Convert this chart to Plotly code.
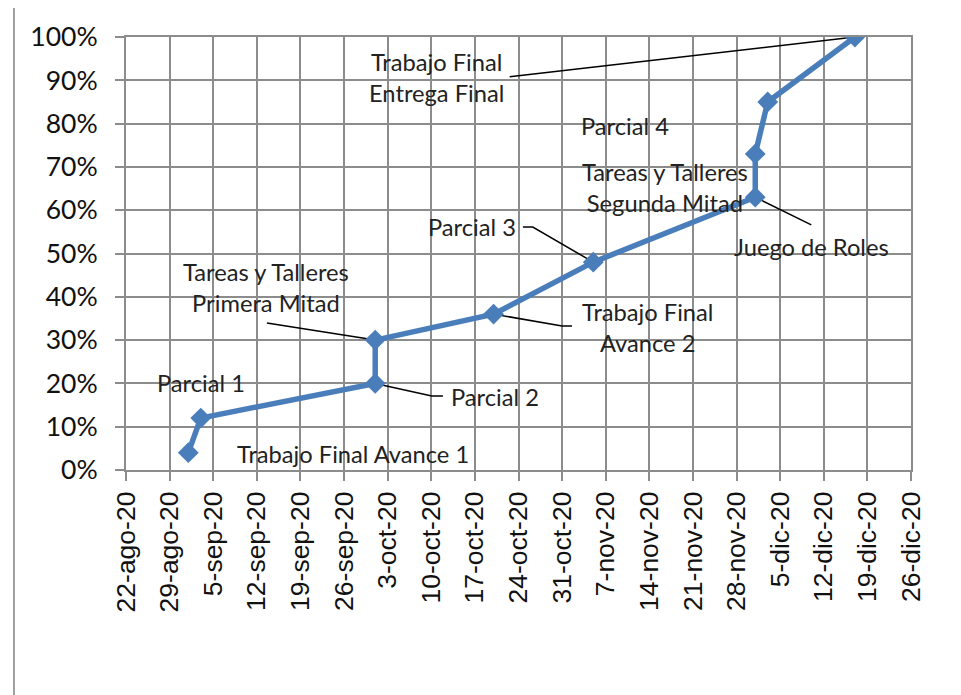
import plotly.graph_objects as go

# ---- data ----
dates = ["2020-09-01", "2020-09-03", "2020-10-01", "2020-10-01", "2020-10-20",
         "2020-11-05", "2020-12-01", "2020-12-01", "2020-12-03", "2020-12-17"]
progress = [0.04, 0.12, 0.20, 0.30, 0.36, 0.48, 0.63, 0.73, 0.85, 1.00]

tick_dates = ["2020-08-22", "2020-08-29", "2020-09-05", "2020-09-12", "2020-09-19",
              "2020-09-26", "2020-10-03", "2020-10-10", "2020-10-17", "2020-10-24",
              "2020-10-31", "2020-11-07", "2020-11-14", "2020-11-21", "2020-11-28",
              "2020-12-05", "2020-12-12", "2020-12-19", "2020-12-26"]
tick_labels = ["22-ago-20", "29-ago-20", "5-sep-20", "12-sep-20", "19-sep-20",
               "26-sep-20", "3-oct-20", "10-oct-20", "17-oct-20", "24-oct-20",
               "31-oct-20", "7-nov-20", "14-nov-20", "21-nov-20", "28-nov-20",
               "5-dic-20", "12-dic-20", "19-dic-20", "26-dic-20"]

# labels: text, x, y
label_texts = ["Trabajo Final<br>Entrega Final", "Parcial 4",
               "Tareas y Talleres<br>Segunda Mitad", "Juego de Roles", "Parcial 3",
               "Trabajo Final<br>Avance 2", "Tareas y Talleres<br>Primera Mitad",
               "Parcial 2", "Parcial 1", "Trabajo Final Avance 1"]
label_x = ["2020-10-10T22:00", "2020-11-10T02:00", "2020-11-16T12:00", "2020-12-10T00:00",
           "2020-10-16T12:00", "2020-11-13T15:00", "2020-09-13T12:00", "2020-10-20T05:00",
           "2020-09-03T00:00", "2020-09-27T10:00"]
label_y = [0.9076, 0.794, 0.652, 0.515, 0.561, 0.328, 0.4226, 0.1686, 0.201, 0.037]

# leader lines (each a polyline from label side to the point)
leaders = [
    (["2020-10-22T14:00", "2020-12-17"], [0.908, 1.00]),
    (["2020-12-01", "2020-12-10T00:00"], [0.63, 0.566]),
    (["2020-10-24T17:00", "2020-10-26T07:00", "2020-11-05"], [0.561, 0.561, 0.48]),
    (["2020-10-20", "2020-10-31T00:00", "2020-11-01T14:00"], [0.36, 0.3326, 0.3326]),
    (["2020-09-13T15:00", "2020-10-01"], [0.3395, 0.30]),
    (["2020-10-01", "2020-10-10T02:00", "2020-10-11T21:00"], [0.20, 0.171, 0.171]),
]

fig = go.Figure()

for lx, ly in leaders:
    fig.add_trace(go.Scatter(x=lx, y=ly, mode="lines",
                             line=dict(color="black", width=1.5),
                             hoverinfo="skip", showlegend=False))

fig.add_trace(go.Scatter(
    x=dates, y=progress, mode="lines+markers",
    line=dict(color="#4A7EBB", width=5.5),
    marker=dict(symbol="diamond", size=16, color="#4A7EBB"),
    showlegend=False))

for t, x, y in zip(label_texts, label_x, label_y):
    fig.add_annotation(x=x, y=y, text=t, showarrow=False,
                       font=dict(family="Lato", size=23.7, color="#222222"))

grid_col = "#8C8C8C"
fig.update_xaxes(
    type="date", range=["2020-08-22", "2020-12-26"],
    tickvals=tick_dates, ticktext=tick_labels, tickangle=-90,
    tickfont=dict(family="Liberation Sans", size=26.5, color="#111111"),
    showgrid=True, gridcolor=grid_col, gridwidth=2,
    showline=True, linecolor=grid_col, linewidth=2, mirror=True,
    ticks="outside", ticklen=9, tickcolor=grid_col, tickwidth=2,
    zeroline=False)
fig.update_yaxes(
    range=[0, 1], dtick=0.1, tickformat=".0%",
    tickfont=dict(family="Lato", size=26.5, color="#111111"),
    showgrid=True, gridcolor=grid_col, gridwidth=2,
    showline=True, linecolor=grid_col, linewidth=2, mirror=True,
    ticks="outside", ticklen=9, tickcolor=grid_col, tickwidth=2,
    ticklabelstandoff=12,
    zeroline=False)

# outer frame
fig.add_shape(type="rect", xref="paper", yref="paper",
              x0=-0.1427, x1=1.0575, y0=-0.6, y1=1.0716,
              line=dict(color="#A0A0A0", width=2), layer="below")

fig.update_layout(
    width=961, height=695,
    margin=dict(l=118, r=58, t=29, b=233),
    plot_bgcolor="white", paper_bgcolor="white",
)

fig.write_html("out.html")
